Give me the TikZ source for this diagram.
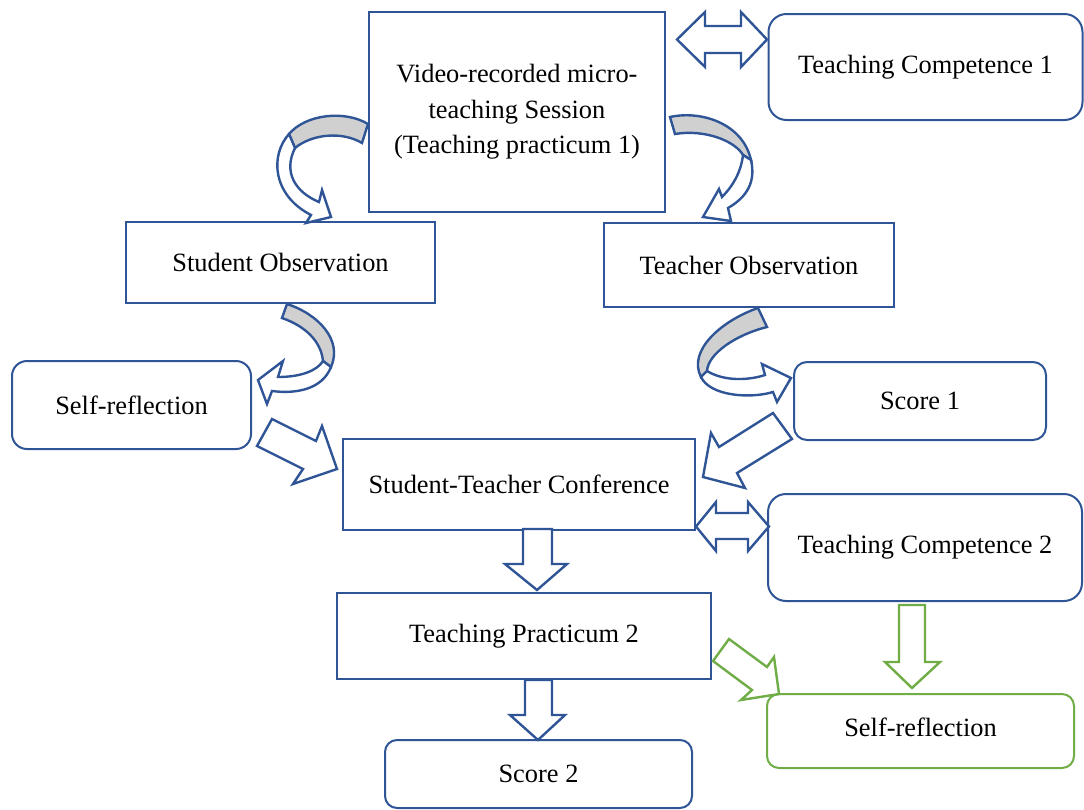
\documentclass[tikz,border=0pt]{standalone}
\usepackage{fontspec}
\setmainfont{Liberation Serif}
\definecolor{bl}{HTML}{2F5597}
\definecolor{gr}{HTML}{70AD47}
\definecolor{gy}{HTML}{D0D0D0}
\begin{document}
\begin{tikzpicture}[x=0.5pt,y=-0.5pt,
  font=\fontsize{13.2}{17.8}\selectfont,
  box/.style={draw=bl, line width=1pt, fill=white, align=center, inner sep=0pt},
  rbox/.style={box, rounded corners=#1},
  gbox/.style={box, draw=gr, rounded corners=#1},
  barrow/.style={draw=bl, line width=1.2pt, fill=white, line join=miter},
  garrow/.style={draw=gr, line width=1.2pt, fill=white, line join=miter},
  cface/.style={draw=bl, line width=1.2pt, fill=gy, line join=miter}]
\useasboundingbox (0,0) rectangle (1084,810);

% boxes
\node[box, minimum width=148pt, minimum height=100pt] (vid) at (517,112)
  {Video-recorded micro-\\teaching Session\\(Teaching practicum 1)};
\node[rbox=9pt, minimum width=157pt, minimum height=53pt] (tc1) at (925.5,67) {Teaching Competence 1};
\node[box, minimum width=154.5pt, minimum height=40.5pt] (so) at (280.5,262.5) {Student Observation};
\node[box, minimum width=145pt, minimum height=42pt] (to) at (749,265) {Teacher Observation};
\node[rbox=7.5pt, minimum width=119.5pt, minimum height=44pt] (sr1) at (131.5,405) {Self-reflection};
\node[rbox=6.5pt, minimum width=126pt, minimum height=39pt] (s1) at (920,401) {Score 1};
\node[box, minimum width=176pt, minimum height=45.5pt] (stc) at (519,484.5) {Student-Teacher Conference};
\node[rbox=9pt, minimum width=157pt, minimum height=53.5pt] (tc2) at (925,547.5) {Teaching Competence 2};
\node[box, minimum width=187pt, minimum height=43pt] (tp2) at (524,636) {Teaching Practicum 2};
\node[gbox=6pt, minimum width=153.5pt, minimum height=37pt] (sr2) at (920.5,731) {\raisebox{4pt}{Self-reflection}};
\node[rbox=6pt, minimum width=153.5pt, minimum height=34pt] (s2) at (538.5,774) {Score 2};

% double arrows
\filldraw[barrow] (677,39.5) -- (705,12) -- (705,26) -- (741,26) -- (741,12) -- (767,39.5)
  -- (741,67) -- (741,53) -- (705,53) -- (705,67) -- cycle;
\filldraw[barrow] (696,526.5) -- (716,502) -- (716,513) -- (748,513) -- (748,502) -- (769,526.5)
  -- (748,551) -- (748,539) -- (716,539) -- (716,551) -- cycle;

% down arrows
\filldraw[barrow] (523,529) -- (552,529) -- (552,564) -- (567,564) -- (537,590) -- (505,564) -- (523,564) -- cycle;
\filldraw[barrow] (525,680) -- (552,680) -- (552,715) -- (565,715) -- (538,740) -- (510,715) -- (525,715) -- cycle;
\filldraw[garrow] (899,605) -- (925,605) -- (925,662) -- (940,662) -- (912,688) -- (885,662) -- (899,662) -- cycle;

% diagonal arrows
\filldraw[garrow] (713,661) -- (729,639) -- (767,667) -- (774,657) -- (779,694) -- (741,700) -- (752,690) -- cycle;
\filldraw[barrow] (272,419) -- (316,441) -- (322,426) -- (337,469) -- (293,484) -- (303,469) -- (257,446) -- cycle;
\filldraw[barrow] (773,413) -- (792,439) -- (737,473) -- (745,488) -- (703,477) -- (711,433) -- (719,447) -- cycle;

% curved arrow: video -> student observation
\filldraw[cface] (368,124) .. controls (345,110) and (306,114) .. (289,134) -- (295,148)
  .. controls (312,134) and (342,131) .. (362,143) -- cycle;
\filldraw[barrow] (289,134) .. controls (270,155) and (272,195) .. (311,215) -- (306,223) -- (331,217)
  -- (322,190) -- (319,202) .. controls (295,192) and (283,172) .. (295,148) -- cycle;

% curved arrow: video -> teacher observation
\filldraw[cface] (670,117) .. controls (702,110) and (743,124) .. (751,160) -- (743,155)
  .. controls (735,141) and (705,129) .. (675,134) -- cycle;
\filldraw[barrow] (751,160) .. controls (756,182) and (747,197) .. (728,208) -- (731,221) -- (703,217)
  -- (719,189) -- (722,197) .. controls (733,186) and (741,172) .. (743,155) -- cycle;

% curved arrow: student observation -> self-reflection
\filldraw[cface] (287,304) .. controls (318,314) and (343,340) .. (331,367) -- (323,361)
  .. controls (321,341) and (305,326) .. (282,318) -- cycle;
\filldraw[barrow] (331,367) .. controls (322,390) and (295,394) .. (272,391) -- (267,404) -- (258,380)
  -- (283,361) -- (278,377) .. controls (300,377) and (317,371) .. (323,361) -- cycle;

% curved arrow: teacher observation -> score 1
\filldraw[cface] (758,308) .. controls (723,320) and (687,350) .. (701,377) -- (707,371)
  .. controls (708,354) and (735,335) .. (767,327) -- cycle;
\filldraw[barrow] (707,371) .. controls (725,382) and (750,380) .. (765,375) -- (762,364) -- (791,378)
  -- (777,402) -- (773,392) .. controls (750,399) and (710,396) .. (701,377) -- cycle;
\end{tikzpicture}
\end{document}
